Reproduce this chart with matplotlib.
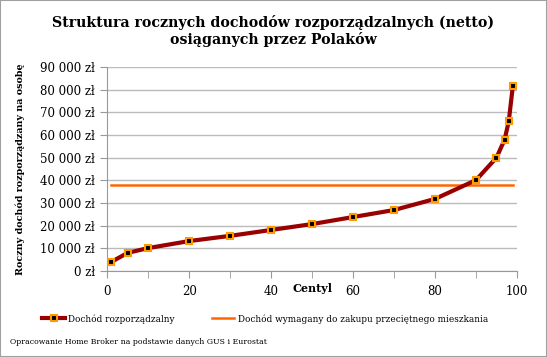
import matplotlib.pyplot as plt
from matplotlib.ticker import FuncFormatter, MultipleLocator

# Data
centyle = [1, 5, 10, 20, 30, 40, 50, 60, 70, 80, 90, 95, 97, 98, 99]
dochod = [4000, 8000, 10100, 13200, 15500, 18100, 20700, 23800, 26900, 31800,
          40100, 50000, 58000, 66000, 81500]
wymagany_x = [1, 99]
wymagany = [38000, 38000]

plt.rcParams['font.family'] = ['DejaVu Serif']

fig = plt.figure(figsize=(5.47, 3.57), dpi=100, facecolor='w')
fig.patches.append(plt.Rectangle((0, 0), 1, 1, transform=fig.transFigure,
                                 fill=False, edgecolor='#a0a0a0', linewidth=1.5))
ax = fig.add_axes([0.196, 0.241, 0.749, 0.571])

ax.plot(centyle, dochod, color='#990000', linewidth=3, marker='s', markersize=5,
        markerfacecolor='black', markeredgecolor='#ff9900', markeredgewidth=1.5,
        label='Dochód rozporządzalny', zorder=3)
ax.plot(wymagany_x, wymagany, color='#ff6600', linewidth=1.8,
        label='Dochód wymagany do zakupu przeciętnego mieszkania', zorder=2)

ax.set_xlim(0, 100)
ax.set_ylim(0, 90000)
ax.xaxis.set_major_locator(MultipleLocator(20))
ax.xaxis.set_minor_locator(MultipleLocator(10))
ax.yaxis.set_major_locator(MultipleLocator(10000))
ax.yaxis.set_major_formatter(FuncFormatter(lambda v, p: '{:,.0f} zł'.format(v).replace(',', ' ')))
ax.grid(axis='y', color='#bbbbbb', linewidth=1)
ax.set_axisbelow(True)
for s in ['top', 'right']:
    ax.spines[s].set_visible(False)
ax.spines['left'].set_color('#999999')
ax.spines['bottom'].set_color('#999999')
ax.tick_params(axis='both', which='both', colors='#999999', labelcolor='black',
               labelsize=8.5, length=5, pad=4)
ax.tick_params(axis='x', pad=5)

ax.set_ylabel('Roczny dochód rozporządzany na osobę', fontsize=6.9, fontweight='bold', labelpad=11)
ax.set_xlabel('Centyl', fontsize=8, fontweight='bold', labelpad=-11)

fig.text(0.5, 0.913, 'Struktura rocznych dochodów rozporządzalnych (netto)\nosiąganych przez Polaków',
         ha='center', va='center', fontsize=10.2, fontweight='bold', linespacing=1.15)

fig.legend(loc='center', bbox_to_anchor=(0.485, 0.107), ncol=2, frameon=False,
           fontsize=6.4, handlelength=2.5, columnspacing=4.2, handletextpad=0.4)
fig.text(0.018, 0.036, 'Opracowanie Home Broker na podstawie danych GUS i Eurostat', fontsize=5.6)

fig.savefig('out.png', dpi=100)
